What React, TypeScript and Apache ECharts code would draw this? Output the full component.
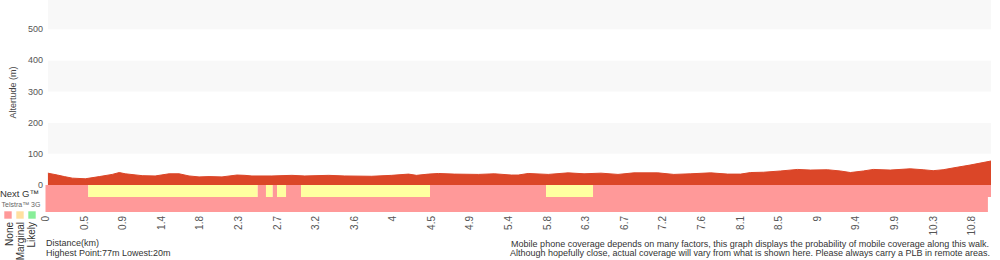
import React, { useEffect, useRef } from "react";
import * as echarts from "echarts";

// ---- data ----
const tickLabels = ["0", "0.5", "0.9", "1.4", "1.8", "2.3", "2.7", "3.2", "3.6", "4", "4.5", "4.9", "5.4", "5.8", "6.3", "6.7", "7.2", "7.6", "8.1", "8.5", "9", "9.4", "9.9", "10.3", "10.8"];
const tickStepKm = 0.45;
const totalKm = 11.026;

const elevationKm = [0, 0.111, 0.192, 0.286, 0.437, 0.601, 0.752, 0.834, 0.904, 1.102, 1.254, 1.417, 1.534, 1.65, 1.767, 1.884, 2.035, 2.21, 2.303, 2.385, 2.618, 2.852, 3.003, 3.283, 3.47, 3.785, 4.018, 4.216, 4.309, 4.449, 4.566, 4.752, 5.032, 5.219, 5.417, 5.499, 5.615, 5.849, 6.082, 6.268, 6.467, 6.665, 6.851, 7.131, 7.318, 7.516, 7.749, 7.947, 8.099, 8.215, 8.367, 8.565, 8.764, 8.915, 9.113, 9.265, 9.382, 9.533, 9.65, 9.848, 10.081, 10.233, 10.35, 10.466, 10.63, 10.781, 10.932, 11.026];
const elevationM = [38, 32, 27, 22, 20, 27, 34, 40, 36, 30, 29, 36, 36, 29, 26, 27, 26, 32, 31, 29, 29, 31, 29, 31, 29, 28, 31, 35, 31, 35, 37, 35, 34, 36, 32, 32, 37, 34, 39, 36, 38, 34, 39, 39, 34, 36, 39, 35, 35, 40, 41, 45, 50, 48, 49, 45, 40, 45, 50, 48, 52, 49, 46, 49, 57, 64, 72, 77];

const coverageLevels = ["None", "Marginal", "Likely"];
const nextGBreaksKm = [0, 0.499, 2.475, 2.571, 2.65, 2.7, 2.805, 2.98, 4.484, 5.837, 6.385, 11.026];
const nextGLevels = ["None", "Marginal", "None", "Marginal", "None", "Marginal", "None", "Marginal", "None", "Marginal", "None"];
const telstraBreaksKm = [0, 10.99];
const telstraLevels = ["None"];

const yTickLabels = ["0", "100", "200", "300", "400", "500"];

// ---- styles ----
const FONT = "'Liberation Sans', Arial, Helvetica, sans-serif";
const RED = "#db4628";
const BAR_COLORS: Record<string, string> = { None: "#ff9999", Marginal: "#ffffa0", Likely: "#88ee99" };
const LEGEND_COLORS = ["#ff9999", "#ffe0a0", "#88ee99"];
const ROW_TOP = [0, 12];
const ROW_BOTTOM = [12, 27];

function segments(breaks: number[], levels: string[], row: number) {
  return levels.map((lv, i) => [breaks[i], breaks[i + 1], row, coverageLevels.indexOf(lv)]);
}

export default function App() {
  const ref = useRef<HTMLDivElement>(null);
  useEffect(() => {
    document.body.style.margin = "0";
    if (!ref.current) return;
    const chart = echarts.init(ref.current, undefined, { renderer: "svg" });
    const covData = [...segments(nextGBreaksKm, nextGLevels, 0), ...segments(telstraBreaksKm, telstraLevels, 1)];
    const legendGraphics: any[] = [];
    coverageLevels.forEach((name, i) => {
      legendGraphics.push({
        type: "rect",
        shape: { x: 4 + i * 12, y: 211, width: 8, height: 8 },
        style: { fill: LEGEND_COLORS[i], stroke: "rgba(255,255,255,0.6)", lineWidth: 1 },
      });
      legendGraphics.push({
        type: "text",
        x: 9 + i * 11,
        y: 222,
        rotation: Math.PI / 2,
        style: { text: name, fontSize: 10, fontFamily: FONT, fill: "#333", align: "right", verticalAlign: "middle" },
      });
    });
    chart.setOption({
      animation: false,
      backgroundColor: "#fff",
      grid: [
        { left: 45.5, right: 9, top: 0, height: 185 },
        { left: 45.5, right: 9, top: 185, height: 27 },
      ],
      xAxis: [
        { type: "value", gridIndex: 0, min: 0, max: totalKm, show: false },
        {
          type: "value",
          gridIndex: 1,
          min: 0,
          max: totalKm,
          interval: tickStepKm,
          axisLine: { show: false },
          axisTick: { show: false },
          splitLine: { show: false },
          axisLabel: {
            rotate: 90,
            margin: 4,
            fontSize: 10,
            fontFamily: FONT,
            color: "#555",
            showMaxLabel: false,
            formatter: (v: number) => {
              const i = Math.round(v / tickStepKm);
              return Math.abs(v - i * tickStepKm) < 1e-3 ? tickLabels[i] ?? "" : "";
            },
          },
        },
      ],
      yAxis: [
        {
          type: "value",
          gridIndex: 0,
          min: 0,
          max: 594,
          interval: 100,
          name: "Altertude (m)",
          nameLocation: "middle",
          nameGap: 23,
          nameTextStyle: { fontSize: 9, fontFamily: FONT, color: "#444" },
          axisLine: { show: false },
          axisTick: { show: false },
          splitLine: { show: false },
          splitArea: { show: true, areaStyle: { color: ["#ffffff", "#f8f8f8"] } },
          axisLabel: {
            margin: 5,
            fontSize: 9,
            fontFamily: FONT,
            color: "#555",
            showMaxLabel: false,
            formatter: (v: number) => yTickLabels[Math.round(v / 100)] ?? "",
          },
        },
        { type: "value", gridIndex: 1, min: 0, max: 27, inverse: true, show: false },
      ],
      series: [
        {
          type: "line",
          xAxisIndex: 0,
          yAxisIndex: 0,
          data: elevationKm.map((k, i) => [k, elevationM[i]]),
          showSymbol: false,
          lineStyle: { color: RED, width: 1 },
          areaStyle: { color: RED, opacity: 1 },
          itemStyle: { color: RED },
        },
        {
          type: "custom",
          xAxisIndex: 1,
          yAxisIndex: 1,
          data: covData,
          encode: { x: [0, 1], y: 2 },
          renderItem: (params: any, api: any) => {
            const row = api.value(2);
            const p0 = api.coord([api.value(0), ROW_TOP[row]]);
            const p1 = api.coord([api.value(1), ROW_BOTTOM[row]]);
            return {
              type: "rect",
              shape: { x: p0[0], y: p0[1], width: p1[0] - p0[0], height: p1[1] - p0[1] },
              style: { fill: BAR_COLORS[coverageLevels[api.value(3)]] },
            };
          },
        },
      ],
      graphic: [
        {
          type: "text",
          x: 39,
          y: 193,
          style: { text: "Next G™", fontSize: 9.5, fontFamily: FONT, fill: "#333", align: "right", verticalAlign: "middle" },
        },
        {
          type: "text",
          x: 21,
          y: 204,
          style: { text: "Telstra™ 3G", fontSize: 7, fontFamily: FONT, fill: "#666", align: "center", verticalAlign: "middle" },
        },
        ...legendGraphics,
        {
          type: "text",
          x: 46,
          y: 243,
          style: { text: "Distance(km)", fontSize: 9, fontFamily: FONT, fill: "#333", align: "left", verticalAlign: "middle" },
        },
        {
          type: "text",
          x: 46,
          y: 253,
          style: { text: "Highest Point:77m Lowest:20m", fontSize: 9, fontFamily: FONT, fill: "#333", align: "left", verticalAlign: "middle" },
        },
        {
          type: "text",
          x: 750,
          y: 244,
          style: { text: "Mobile phone coverage depends on many factors, this graph displays the probability of mobile coverage along this walk.", fontSize: 9, fontFamily: FONT, fill: "#333", align: "center", verticalAlign: "middle" },
        },
        {
          type: "text",
          x: 750,
          y: 253,
          style: { text: "Although hopefully close, actual coverage will vary from what is shown here. Please always carry a PLB in remote areas.", fontSize: 9, fontFamily: FONT, fill: "#333", align: "center", verticalAlign: "middle" },
        },
      ],
    });
    return () => chart.dispose();
  }, []);
  return <div ref={ref} style={{ position: "absolute", left: 0, top: 0, width: 1000, height: 260 }} />;
}
